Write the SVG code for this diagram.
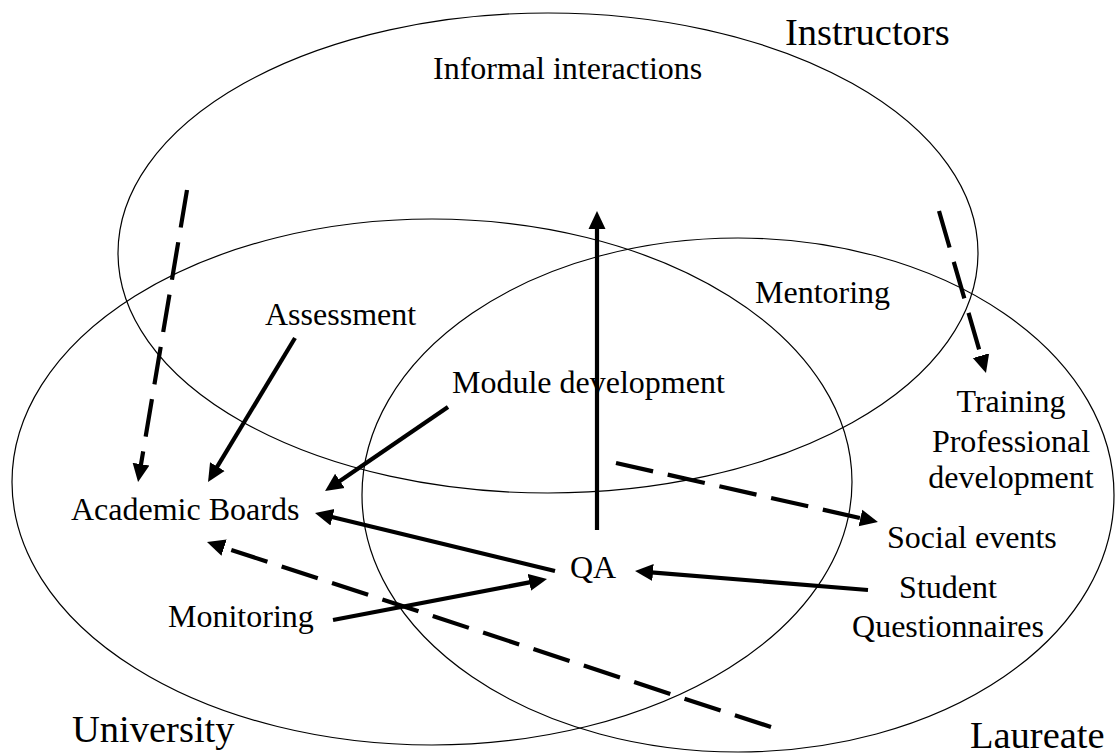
<svg xmlns="http://www.w3.org/2000/svg" width="1117" height="755" viewBox="0 0 1117 755">
<style>
.set{fill:none;stroke:#000;stroke-width:1.2}
.lbl{font-family:"Liberation Serif","Times New Roman",serif;font-size:32px;fill:#000}
.big{font-family:"Liberation Serif","Times New Roman",serif;font-size:38.5px;fill:#000}
.arr{stroke:#000;stroke-width:4.2;fill:none;marker-end:url(#ah)}
.dash{stroke-dasharray:38 15}
</style>
<defs>
<marker id="ah" markerUnits="userSpaceOnUse" markerWidth="20" markerHeight="20" viewBox="0 -10 20 20" refX="8" refY="0" orient="auto">
<path d="M0,-8.5 L18,0 L0,8.5 z" fill="#000"/>
</marker>
</defs>
<rect width="1117" height="755" fill="#fff"/>
<g id="sets">
<ellipse id="set-instructors" class="set" cx="548" cy="253" rx="430" ry="240"/>
<ellipse id="set-university" class="set" cx="432" cy="482" rx="420" ry="263"/>
<ellipse id="set-laureate" class="set" cx="738" cy="495" rx="376" ry="257"/>
</g>
<g id="connectors">
<line class="arr dash" x1="187" y1="190" x2="139.7" y2="472.1"/>
<line class="arr" x1="295" y1="338" x2="213.2" y2="473.4"/>
<line class="arr" x1="448" y1="407" x2="333.3" y2="485.4"/>
<line class="arr" x1="555" y1="571" x2="324.7" y2="515.3"/>
<line class="arr dash" x1="771" y1="727" x2="216.5" y2="545.1"/>
<line class="arr" x1="333" y1="620" x2="537.2" y2="580.9"/>
<line class="arr" x1="597" y1="530" x2="597" y2="221"/>
<line class="arr" x1="868" y1="590" x2="645" y2="571.8"/>
<line class="arr dash" x1="616" y1="463" x2="868.2" y2="519.8"/>
<line class="arr dash" x1="939" y1="211" x2="983.2" y2="363.4"/>
</g>
<g id="label-instructors"><text class="big" x="785" y="45">Instructors</text></g>
<g id="label-university"><text class="big" x="72" y="742">University</text></g>
<g id="label-laureate"><text class="big" x="970" y="748">Laureate</text></g>
<g id="node-informal"><text class="lbl" x="433" y="79">Informal interactions</text></g>
<g id="node-mentoring"><text class="lbl" x="755" y="303">Mentoring</text></g>
<g id="node-assessment"><text class="lbl" x="265" y="325">Assessment</text></g>
<g id="node-module"><text class="lbl" x="452" y="393">Module development</text></g>
<g id="node-academic"><text class="lbl" x="71" y="520">Academic Boards</text></g>
<g id="node-qa"><text class="lbl" x="570" y="578">QA</text></g>
<g id="node-monitoring"><text class="lbl" x="168" y="627">Monitoring</text></g>
<g id="node-training"><text class="lbl" text-anchor="middle"><tspan x="1011" y="412">Training</tspan><tspan x="1011" y="452">Professional</tspan><tspan x="1011" y="488">development</tspan></text></g>
<g id="node-social"><text class="lbl" x="887" y="548">Social events</text></g>
<g id="node-questionnaires"><text class="lbl" text-anchor="middle"><tspan x="948" y="598">Student</tspan><tspan x="948" y="637">Questionnaires</tspan></text></g>
</svg>
